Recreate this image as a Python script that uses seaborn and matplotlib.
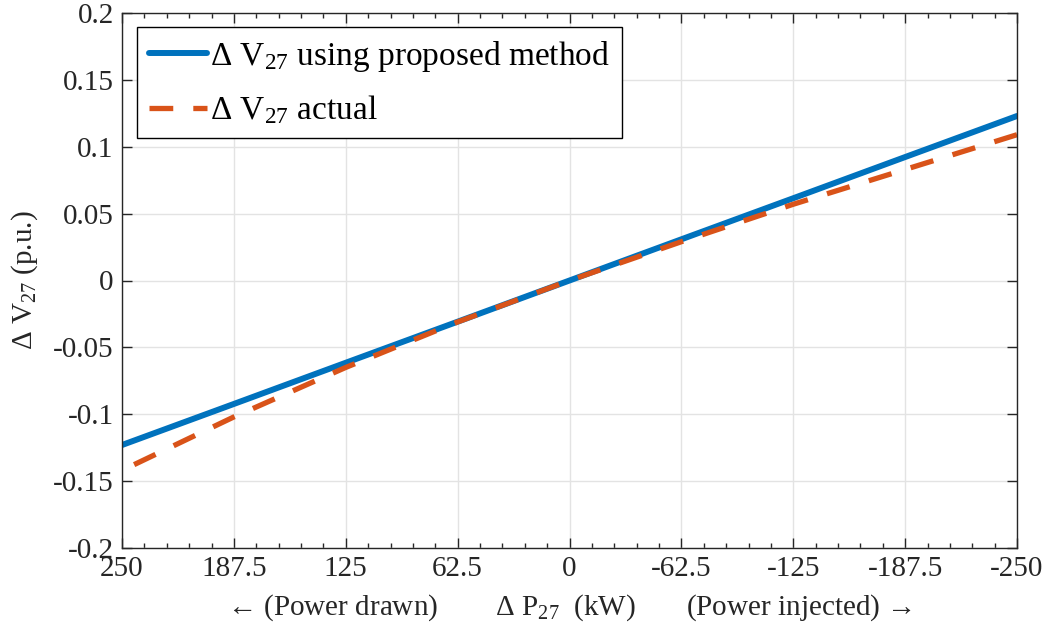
import numpy as np
import pandas as pd
import matplotlib
matplotlib.use("Agg")
import matplotlib.pyplot as plt
from matplotlib.ticker import MultipleLocator, FixedLocator, FixedFormatter
import seaborn as sns

# Data (x axis runs from +250 kW drawn to -250 kW injected)
dp_kw = [250, 187.5, 125, 62.5, 0, -62.5, -125, -187.5, -250]
dv_proposed = [-0.123, -0.0923, -0.0615, -0.0308, 0.0, 0.0308, 0.0615, 0.0923, 0.123]
dv_actual = [-0.142, -0.102, -0.065, -0.031, 0.0, 0.029, 0.057, 0.083, 0.109]

series_names = [r"$\Delta$ V$_{27}$ using proposed method", r"$\Delta$ V$_{27}$ actual"]
x_ticks = [250, 187.5, 125, 62.5, 0, -62.5, -125, -187.5, -250]
x_ticklabels = ["250", "187.5", "125", "62.5", "0", "-62.5", "-125", "-187.5", "-250"]
y_ticks = [0.2, 0.15, 0.1, 0.05, 0, -0.05, -0.1, -0.15, -0.2]
y_ticklabels = ["0.2", "0.15", "0.1", "0.05", "0", "-0.05", "-0.1", "-0.15", "-0.2"]

df = pd.DataFrame({
    "dP": dp_kw + dp_kw,
    "dV": dv_proposed + dv_actual,
    "series": [series_names[0]] * len(dp_kw) + [series_names[1]] * len(dp_kw),
})

sns.set_theme(style="ticks")
plt.rcParams["font.family"] = ["Liberation Serif", "DejaVu Serif"]
plt.rcParams["mathtext.fontset"] = "custom"
plt.rcParams["mathtext.rm"] = "Liberation Serif"
plt.rcParams["mathtext.it"] = "Liberation Serif:italic"
plt.rcParams["mathtext.default"] = "regular"

axis_col = "#262626"
palette = {series_names[0]: "#0072BD", series_names[1]: "#D95319"}
dashes = {series_names[0]: "", series_names[1]: (4.5, 3.8)}
widths = [4.3, 3.8]

fig = plt.figure(figsize=(10.45, 6.36), dpi=100)
ax = fig.add_axes([122 / 1045, 88 / 636, 895 / 1045, 535 / 636])

sns.lineplot(data=df, x="dP", y="dV", hue="series", style="series",
             palette=palette, dashes=dashes, ax=ax, legend=False)
for line, w in zip(ax.lines, widths):
    line.set_linewidth(w)

ax.set_xlim(250, -250)
ax.set_ylim(-0.2, 0.2)
ax.xaxis.set_major_locator(FixedLocator(x_ticks))
ax.xaxis.set_major_formatter(FixedFormatter(x_ticklabels))
ax.xaxis.set_minor_locator(MultipleLocator(12.5))
ax.yaxis.set_major_locator(FixedLocator(y_ticks))
ax.yaxis.set_major_formatter(FixedFormatter(y_ticklabels))

ax.grid(True, which="major", color="#e3e3e3", linewidth=1.0)
ax.set_axisbelow(True)
for sp in ax.spines.values():
    sp.set_visible(True)
    sp.set_color(axis_col)
    sp.set_linewidth(1.0)

ax.tick_params(which="both", direction="in", top=True, right=True,
               colors=axis_col, labelcolor=axis_col, width=1.0)
ax.tick_params(which="major", length=7, labelsize=21, pad=6)
ax.tick_params(which="minor", length=3.5)
ax.tick_params(axis="y", which="minor", left=False, right=False)

ax.set_xlabel("\u2190 (Power drawn)        $\\Delta$ P$_{27}$  (kW)       (Power injected) \u2192",
              fontsize=21, color=axis_col, labelpad=7)
ax.set_ylabel(r"$\Delta$ V$_{27}$ (p.u.)", fontsize=21, color=axis_col, labelpad=9)

# Custom legend
handles = [plt.Line2D([0], [0], color=palette[series_names[0]], lw=widths[0]),
           plt.Line2D([0], [0], color=palette[series_names[1]], lw=widths[1],
                      dashes=dashes[series_names[1]])]
leg = ax.legend(handles, series_names, loc="upper left", bbox_to_anchor=(0.0168, 0.974),
                borderaxespad=0, fontsize=24, handlelength=1.75, handletextpad=0.1,
                labelspacing=0.6, borderpad=0.35, frameon=True, fancybox=False,
                framealpha=1, edgecolor="black")
leg.get_frame().set_linewidth(1.0)
for t in leg.get_texts():
    t.set_color("black")

fig.savefig("out.png", dpi=100)
